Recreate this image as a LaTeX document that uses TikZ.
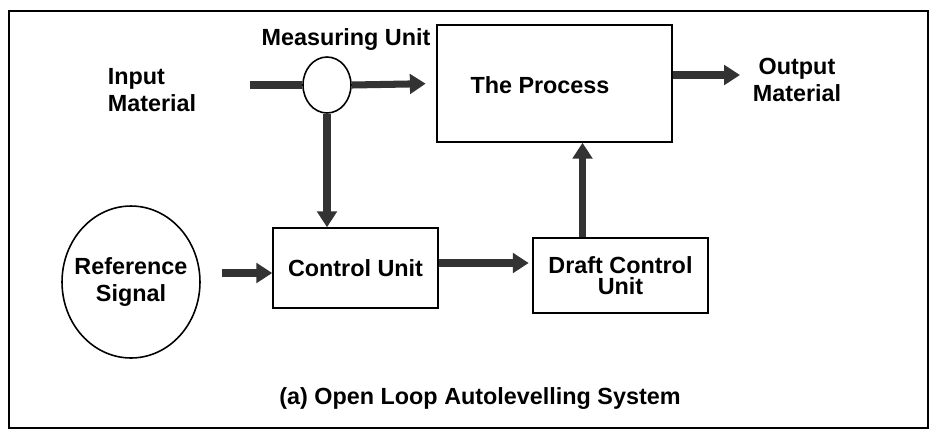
\documentclass[tikz,border=0pt]{standalone}
\usepackage{fontspec}
\setmainfont{Liberation Sans}
\usepackage{xcolor}
\usepackage{tikz}
\usetikzlibrary{shapes,shapes.geometric,arrows.meta,positioning,calc}

\tikzset{
    block/.style={rectangle, draw, line width=0.9pt},
    blob/.style={ellipse, draw, line width=0.9pt, inner sep=0pt},
    flow/.style={line width=4pt, draw=black!80, -{Triangle[length=9pt,width=11pt]}},
    feed/.style={line width=4pt, draw=black!80},
    lbl/.style={font=\fontsize{13.3}{15}\selectfont\bfseries}
}

\begin{document}
\begin{tikzpicture}[x=0.02cm, y=-0.02cm, every node/.style={lbl}]
    \useasboundingbox (0,0) rectangle (937,434);
    \draw [line width=1pt] (9,11) rectangle (928,428);

    \node (meas) [blob, minimum width=0.96cm, minimum height=1.12cm] at (327,85) {};
    \node (measlbl) at (346,40) {Measuring Unit};
    \node (process) [block, minimum width=4.7cm, minimum height=2.34cm] at (554.5,83.5) {};
    \node (proctxt) at (540,85) {The Process};
    \node (ctrl) [block, minimum width=3.3cm, minimum height=1.6cm] at (355.5,268) {Control Unit};
    \node (draft) [block, minimum width=3.5cm, minimum height=1.5cm, align=center] at (620.5,275.5) {Draft Control\\[-3pt]Unit};
    \node (ref) [blob, inner xsep=-6pt, minimum width=2.76cm, minimum height=3.04cm, align=center] at (131,282) {Reference\\Signal};
    \node (input) [align=left] at (152,90) {Input\\Material};
    \node (output) [align=center] at (797,80) {Output\\Material};
    \node (caption) at (480,398) {(a) Open Loop Autolevelling System};

    \coordinate (in) at (250,85);
    \coordinate (out) at (740,75);
    \coordinate (up) at ($(draft.north)+(-38,0)$);

    \draw [feed] (in) -- (meas.west);
    \draw [flow, shorten >=6pt] (meas.east) -- (process.west);
    \draw [flow] (process.east |- out) -- (out);
    \draw [flow] (meas.south) -- (meas.south |- ctrl.north);
    \draw [flow, shorten <=12pt] (ref.east |- 0,273) -- (ctrl.west |- 0,273);
    \draw [flow, shorten >=2pt] (ctrl.east |- 0,263) -- (draft.west |- 0,263);
    \draw [flow] (up) -- (up |- process.south);
\end{tikzpicture}
\end{document}
